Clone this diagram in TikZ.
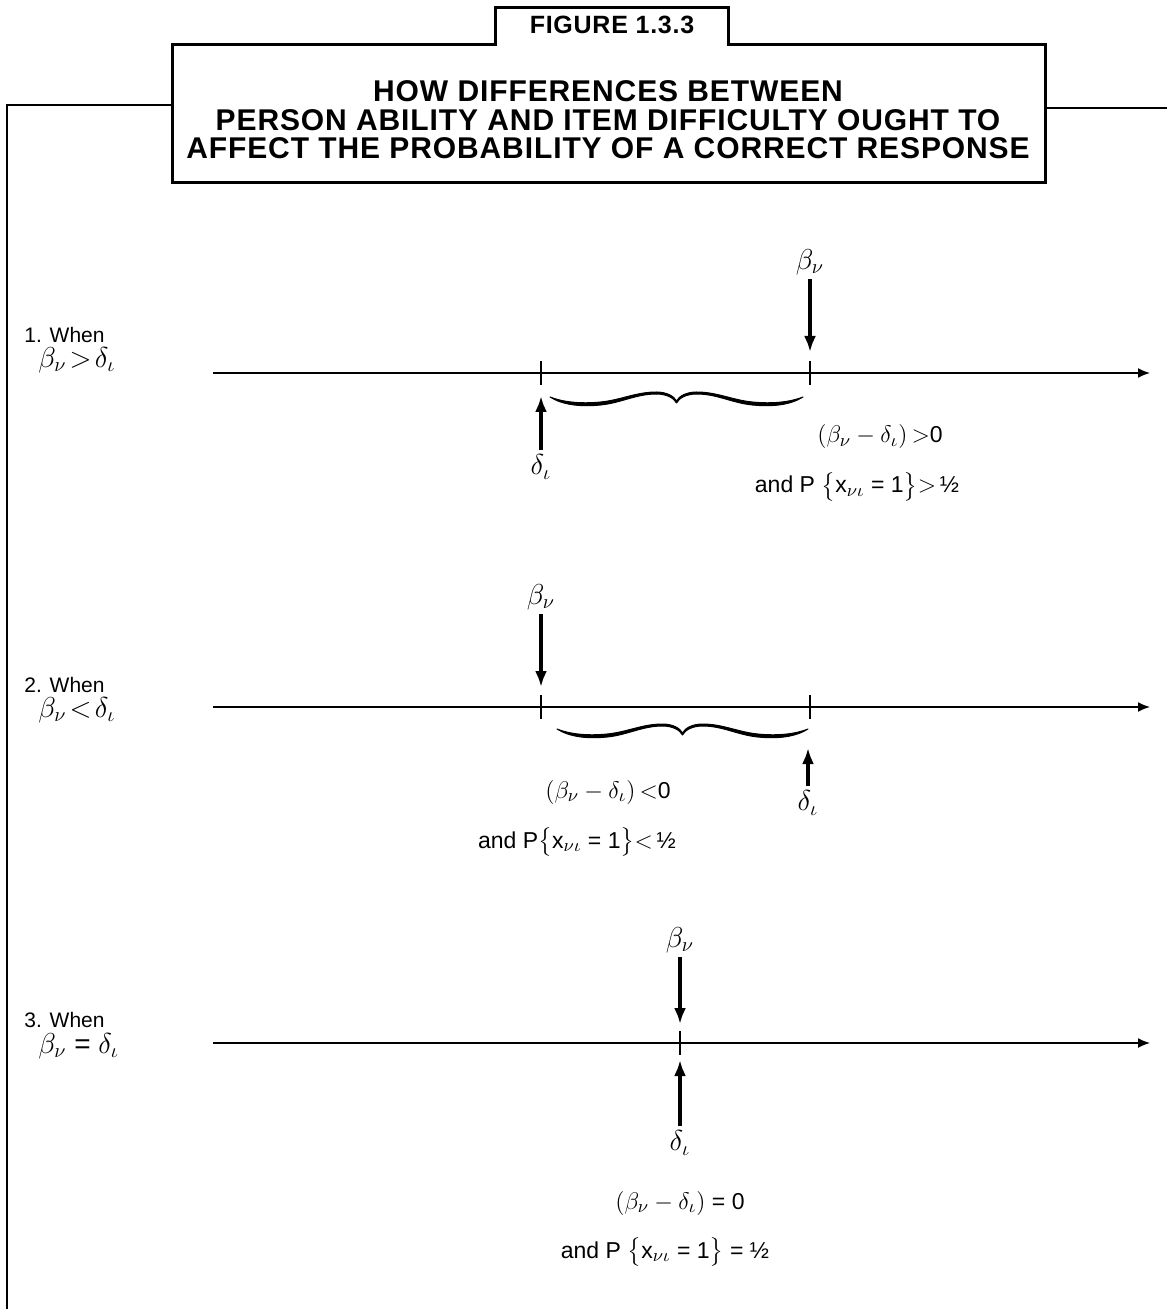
\documentclass[tikz,border=0pt]{standalone}
\usepackage{fontspec}
\setmainfont{Liberation Sans}
\newfontfamily\titlefont[LetterSpace=3]{Liberation Sans}
\usepackage{amsmath}
\usetikzlibrary{arrows.meta}

\tikzset{
  axis/.style={line width=0.8pt,-{Latex[length=6pt,width=5pt]}},
  tick/.style={line width=1pt},
  pointer/.style={line width=1.6pt,-{Latex[length=8pt,width=6pt]}},
  when/.style={inner sep=1pt,font=\fontsize{10.5}{12}\selectfont},
  lab/.style={inner sep=0pt,font=\fontsize{11.5}{13}\selectfont},
  greek/.style={inner sep=2pt,font=\fontsize{14}{16}\selectfont},
}

% math set a little larger than the text around it
\newcommand{\bmath}[1]{{\fontsize{13}{14}\selectfont$#1$}}

\newcommand{\wavybrace}[3]{% from x=#1 to x=#2 at y=#3
  \begin{scope}[shift={(#1,#3)},xscale={(#2-#1)/100}]
    \filldraw[line width=0.5pt,line join=round]
      (0,0) .. controls (5,5) and (12,7) .. (20,5)
      .. controls (28,3) and (34,-5) .. (42,-5)
      .. controls (46,-5) and (49,-1) .. (50,4)
      .. controls (51,-1) and (54,-5) .. (58,-5)
      .. controls (66,-5) and (72,3) .. (80,5)
      .. controls (88,7) and (95,5) .. (100,0)
      .. controls (95,8) and (88,10) .. (80,8)
      .. controls (72,6) and (66,-3) .. (58,-3)
      .. controls (54,-3) and (51,1) .. (50,6)
      .. controls (49,1) and (46,-3) .. (42,-3)
      .. controls (34,-3) and (28,6) .. (20,8)
      .. controls (12,10) and (5,8) .. (0,0) -- cycle;
  \end{scope}}

\begin{document}
\begin{tikzpicture}[x=0.5pt,y=-0.5pt]
\useasboundingbox (0,0) rectangle (1167,1309);
% frame:
\draw[line width=1pt] (172,105) -- (7,105) -- (7,1309);
\draw[line width=1pt] (1045,108) -- (1167,108);
% header:
\draw[line width=1.5pt] (172,45) -- (495,45) -- (495,8) -- (728,8) -- (728,45)
  -- (1045,45) -- (1045,183) -- (172,183) -- cycle;
\node[font=\fontsize{12.5}{14}\selectfont\titlefont\bfseries] (fig) at (612,25) {FIGURE 1.3.3};
\node[align=center,font=\fontsize{15}{14.2}\selectfont\titlefont\bfseries] (title) at (608,120)
  {HOW DIFFERENCES BETWEEN\\PERSON ABILITY AND ITEM DIFFICULTY OUGHT TO\\AFFECT THE PROBABILITY OF A CORRECT RESPONSE};

% row 1:
\node[when,anchor=west] (when1) at (22,335) {1. When};
\node[greek,anchor=west] (cond1) at (34,360) {$\beta_\nu\!>\!\delta_\iota$};
\draw[axis] (213,373) -- (1150,373);
\draw[tick] (541,361) -- (541,385);
\draw[tick] (810,361) -- (810,385);
\node[greek] (b1) at (810,262) {$\beta_\nu$};
\coordinate (b1tip) at (810,352);
\draw[pointer] (b1) -- (b1tip);
\node[greek] (d1) at (541,467) {$\delta_\iota$};
\coordinate (d1tip) at (541,396);
\draw[pointer] (d1) -- (d1tip);
\wavybrace{550}{803}{397}
\node[lab] (diff1) at (880,437) {\bmath{(\beta_\nu - \delta_\iota)\,{>}}0};
\node[lab] (prob1) at (857,487) {and P \bmath{\bigl\{}x\bmath{_{\nu\iota}} = 1\bmath{\bigr\}{>}}\,½};

% row 2:
\node[when,anchor=west] (when2) at (22,685) {2. When};
\node[greek,anchor=west] (cond2) at (34,710) {$\beta_\nu\!<\!\delta_\iota$};
\draw[axis] (213,707) -- (1150,707);
\draw[tick] (541,695) -- (541,719);
\draw[tick] (810,695) -- (810,719);
\node[greek] (b2) at (541,597) {$\beta_\nu$};
\coordinate (b2tip) at (541,687);
\draw[pointer] (b2) -- (b2tip);
\node[greek] (d2) at (808,803) {$\delta_\iota$};
\coordinate (d2tip) at (808,748);
\draw[pointer] (d2) -- (d2tip);
\wavybrace{557}{808}{729}
\node[lab] (diff2) at (608,792) {\bmath{(\beta_\nu - \delta_\iota)\,{<}}0};
\node[lab] (prob2) at (577,842) {and P\bmath{\bigl\{}x\bmath{_{\nu\iota}} = 1\bmath{\bigr\}{<}}\,½};

% row 3:
\node[when,anchor=west] (when3) at (22,1020) {3. When};
\node[greek,anchor=west] (cond3) at (34,1046) {$\beta_\nu$ = $\delta_\iota$};
\draw[axis] (213,1043) -- (1150,1043);
\draw[tick] (680,1031) -- (680,1055);
\node[greek] (b3) at (680,940) {$\beta_\nu$};
\coordinate (b3tip) at (680,1024);
\draw[pointer] (b3) -- (b3tip);
\node[greek] (d3) at (680,1143) {$\delta_\iota$};
\coordinate (d3tip) at (680,1060);
\draw[pointer] (d3) -- (d3tip);
\node[lab] (diff3) at (680,1203) {\bmath{(\beta_\nu - \delta_\iota)} = 0};
\node[lab] (prob3) at (665,1252) {and P \bmath{\bigl\{}x\bmath{_{\nu\iota}} = 1\bmath{\bigr\}} = ½};
\end{tikzpicture}
\end{document}
